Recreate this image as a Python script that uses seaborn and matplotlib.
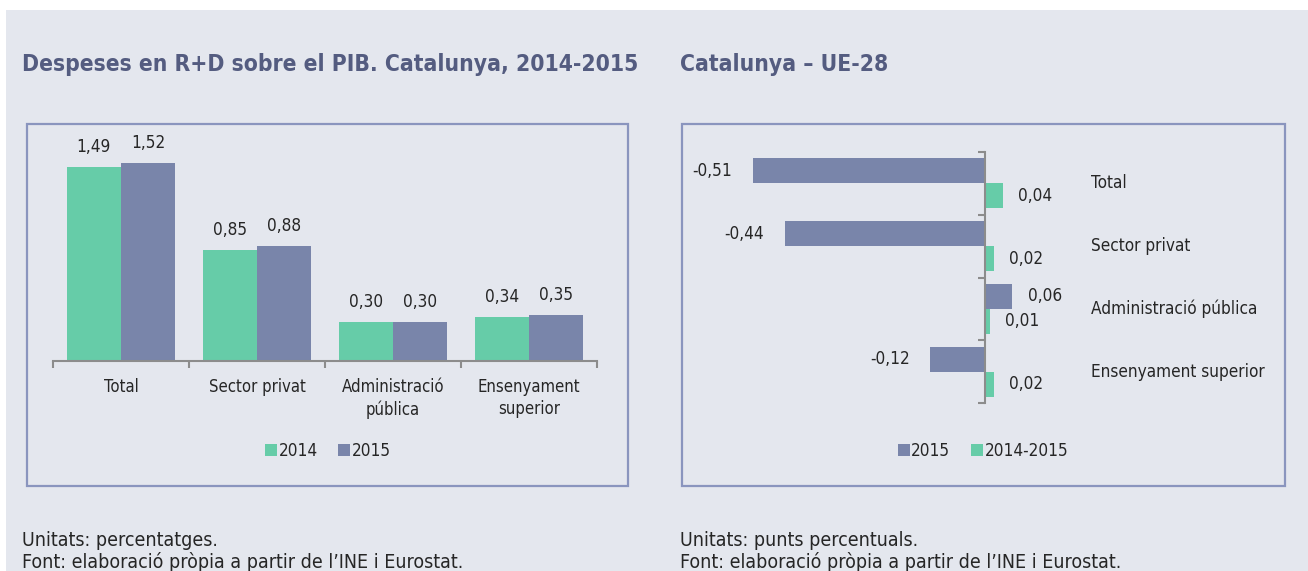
import numpy as np
import pandas as pd
import matplotlib
matplotlib.use('Agg')
import matplotlib.pyplot as plt
import matplotlib.patches as mpatches
from matplotlib.transforms import blended_transform_factory
import seaborn as sns

# dades
categories = ['Total', 'Sector privat', 'Administració pública', 'Ensenyament superior']
tick_labels = ['Total', 'Sector privat', 'Administració\npública', 'Ensenyament\nsuperior']
pib_2014 = [1.49, 0.85, 0.30, 0.34]
pib_2015 = [1.52, 0.88, 0.30, 0.35]
ue_2015 = [-0.51, -0.44, 0.06, -0.12]
ue_2014_2015 = [0.04, 0.02, 0.01, 0.02]

GREEN = '#66CCA8'
BLUE = '#7985AA'
BG = '#E4E7EE'
BORDER = '#8A95BE'
TITLE = '#545C80'
TXT = '#262626'
AXIS = '#8C8C8C'

sns.set_theme(style='white')
plt.rcParams['font.family'] = ['DejaVu Sans']
plt.rcParams['font.stretch'] = 'condensed'
plt.rcParams['text.color'] = TXT

W, H = 1308, 571
fig = plt.figure(figsize=(W / 100, H / 100), dpi=100, facecolor='white')

def fx(px):
    return px / W

def fy(py):
    return 1 - py / H

# fons i marcs
fig.patches.append(mpatches.Rectangle((fx(6), 0), 1, fy(10), transform=fig.transFigure,
                                      facecolor=BG, edgecolor='none', zorder=-10))
for x0, x1 in [(27, 628), (682, 1285)]:
    fig.patches.append(mpatches.Rectangle((fx(x0), fy(486)), fx(x1 - x0), (486 - 124) / H,
                                          transform=fig.transFigure, facecolor='none',
                                          edgecolor=BORDER, linewidth=1.6, zorder=-5))

fmt = lambda v: f'{v:.2f}'.replace('.', ',')

# --- grafic esquerre
df1 = pd.DataFrame({
    'cat': categories * 2,
    'any': ['2014'] * 4 + ['2015'] * 4,
    'val': pib_2014 + pib_2015,
})
ax1 = fig.add_axes([fx(53), fy(361), fx(597 - 53), (361 - 130) / H])
ax1.set_facecolor('none')
sns.barplot(data=df1, x='cat', y='val', hue='any', order=categories,
            palette=[GREEN, BLUE], saturation=1, width=0.8, ax=ax1, legend=True,
            edgecolor='none', linewidth=0)
ax1.set_ylim(0, 231 / 130.26)
ax1.set_xlim(-0.5, 3.5)
for c in ax1.containers:
    ax1.bar_label(c, labels=[fmt(v) for v in c.datavalues], padding=8, fontsize=12.3, color=TXT)
for s in ['top', 'right', 'left']:
    ax1.spines[s].set_visible(False)
ax1.spines['bottom'].set_color(AXIS)
ax1.spines['bottom'].set_linewidth(1.5)
ax1.set_yticks([])
ax1.set_xticks(range(4))
ax1.set_xticklabels(tick_labels, fontsize=12, color=TXT, linespacing=1.3)
ax1.set_xticks(np.arange(-0.5, 4, 1), minor=True)
ax1.tick_params(axis='x', which='major', length=0, pad=12)
ax1.tick_params(axis='x', which='minor', length=5, width=1.5, color=AXIS, direction='out', bottom=True)
ax1.set_xlabel('')
ax1.set_ylabel('')
h, l = ax1.get_legend_handles_labels()
ax1.legend(h, l, loc='center', bbox_to_anchor=(fx(328), fy(451)), bbox_transform=fig.transFigure,
           ncol=2, frameon=False, fontsize=12.3, handlelength=0.7, handleheight=0.7,
           handletextpad=0.1, columnspacing=1.2)

# --- grafic dret
df2 = pd.DataFrame({
    'cat': categories * 2,
    'serie': ['2015'] * 4 + ['2014-2015'] * 4,
    'val': ue_2015 + ue_2014_2015,
})
ax2 = fig.add_axes([fx(700), fy(403), fx(1280 - 700), (403 - 152) / H])
ax2.set_facecolor('none')
sns.barplot(data=df2, y='cat', x='val', hue='serie', order=categories, orient='h',
            palette=[BLUE, GREEN], saturation=1, width=0.8, ax=ax2, legend=True,
            edgecolor='none', linewidth=0)
ax2.set_xlim(-(985 - 700) / 455, (1280 - 985) / 455)
ax2.set_ylim(3.5, -0.5)
for c in ax2.containers:
    vals = c.datavalues
    ax2.bar_label(c, labels=[fmt(v) if v < 0 else '' for v in vals], padding=15,
                  fontsize=12.3, color=TXT)
    ax2.bar_label(c, labels=[fmt(v) if v >= 0 else '' for v in vals], padding=11,
                  fontsize=12.3, color=TXT)
for s in ['top', 'right', 'bottom']:
    ax2.spines[s].set_visible(False)
ax2.spines['left'].set_position(('data', 0))
ax2.spines['left'].set_color(AXIS)
ax2.spines['left'].set_linewidth(1.5)
ax2.set_xticks([])
ax2.set_yticks(range(4))
ax2.set_yticklabels([])
ax2.set_yticks(np.arange(-0.5, 4, 1), minor=True)
ax2.tick_params(axis='y', which='major', length=0)
ax2.tick_params(axis='y', which='minor', length=5, width=1.5, color=AXIS, direction='out', left=True)
ax2.set_xlabel('')
ax2.set_ylabel('')
tr = blended_transform_factory(ax2.transAxes, ax2.transData)
for i, c in enumerate(categories):
    ax2.text((1091 - 700) / 580, i, c, transform=tr, ha='left', va='center',
             fontsize=12.3, color=TXT)
h, l = ax2.get_legend_handles_labels()
ax2.legend(h, l, loc='center', bbox_to_anchor=(fx(983), fy(451)), bbox_transform=fig.transFigure,
           ncol=2, frameon=False, fontsize=12.3, handlelength=0.7, handleheight=0.7,
           handletextpad=0.1, columnspacing=1.2)

# titols i notes
fig.text(fx(22), fy(65), 'Despeses en R+D sobre el PIB. Catalunya, 2014-2015', fontsize=16.4,
         fontweight='bold', color=TITLE, va='center', ha='left')
fig.text(fx(680), fy(65), 'Catalunya – UE-28', fontsize=16.4, fontweight='bold',
         color=TITLE, va='center', ha='left')
for x, unit in [(22, 'Unitats: percentatges.'), (680, 'Unitats: punts percentuals.')]:
    fig.text(fx(x), fy(540), unit, fontsize=14, color=TXT, va='center', ha='left')
    fig.text(fx(x), fy(562), "Font: elaboració pròpia a partir de l’INE i Eurostat.",
             fontsize=14, color=TXT, va='center', ha='left')

fig.savefig('out.png', dpi=100, facecolor='white')
